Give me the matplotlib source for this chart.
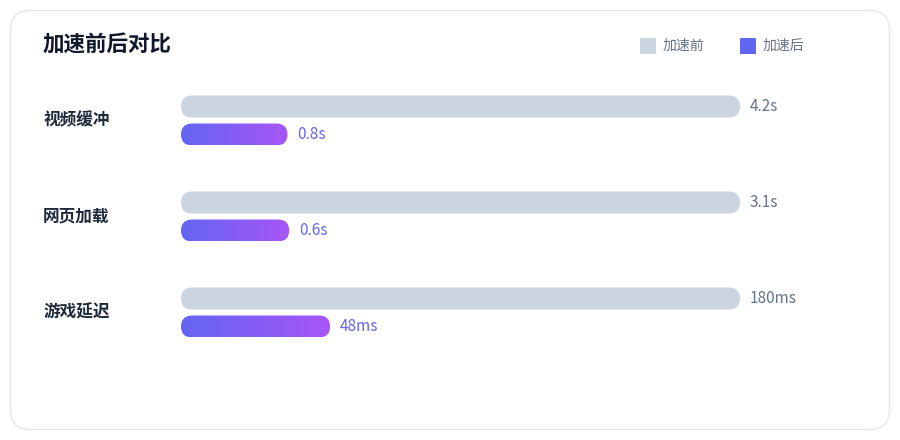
import numpy as np
import matplotlib.pyplot as plt
from matplotlib.patches import FancyBboxPatch, Rectangle
from matplotlib.colors import LinearSegmentedColormap

plt.rcParams['font.family'] = ['Noto Sans CJK SC', 'DejaVu Sans']

title = '加速前后对比'
categories = ['视频缓冲', '网页加载', '游戏延迟']
before = [4.2, 3.1, 180]
after = [0.8, 0.6, 48]
before_labels = ['4.2s', '3.1s', '180ms']
after_labels = ['0.8s', '0.6s', '48ms']
legend_labels = ['加速前', '加速后']

c_before = '#cbd5e1'
c_grad = ['#6366f1', '#a855f7']
c_text = '#1e293b'
c_muted = '#64748b'

W, H = 900, 440
fig = plt.figure(figsize=(W / 100, H / 100), dpi=100)
fig.patch.set_facecolor('white')

# background card, pixel coordinates
bg = fig.add_axes([0, 0, 1, 1])
bg.set_xlim(0, W)
bg.set_ylim(H, 0)
bg.axis('off')
bg.add_patch(FancyBboxPatch((10.5, 10.5), 879, 419, boxstyle='round,pad=0,rounding_size=20',
                            fc='white', ec='#e6e4f5', lw=1))
bg.text(43, 45, title, fontsize=15.5, fontweight='bold', color='#0f172a', va='center', ha='left')

# legend
bg.add_patch(Rectangle((640, 38), 16, 16, fc=c_before, ec='none'))
bg.text(663, 46, legend_labels[0], fontsize=10, color=c_muted, va='center')
bg.add_patch(Rectangle((740, 38), 16, 16, fc=c_grad[0], ec='none'))
bg.text(763, 46, legend_labels[1], fontsize=10, color=c_muted, va='center')

# bar area
x0, x1 = 181, 740
step = 96.0
first = 120.5
ax = fig.add_axes([x0 / W, 0, (x1 - x0) / W, 1])
ax.patch.set_alpha(0)
ax.axis('off')
ax.set_xlim(0, 1)
ax.set_ylim((H - first) / step, -first / step)

bar_h = 22 / step
off = 14 / step
rnd = 11 / (x1 - x0)
asp = (x1 - x0) / step

cmap = LinearSegmentedColormap.from_list('g', c_grad)
grad = np.linspace(0, 1, 256).reshape(1, -1)

for i, cat in enumerate(categories):
    frac = after[i] / before[i]
    yb = i - off
    ya = i + off
    pb = FancyBboxPatch((0, yb - bar_h / 2), 1, bar_h,
                        boxstyle=f'round,pad=0,rounding_size={rnd}',
                        mutation_aspect=asp, fc=c_before, ec='none')
    ax.add_patch(pb)
    pa = FancyBboxPatch((0, ya - bar_h / 2), frac, bar_h,
                        boxstyle=f'round,pad=0,rounding_size={rnd}',
                        mutation_aspect=asp, fc='none', ec='none')
    ax.add_patch(pa)
    im = ax.imshow(grad, cmap=cmap, aspect='auto',
                   extent=(0, frac, ya + bar_h / 2, ya - bar_h / 2), interpolation='bilinear')
    im.set_clip_path(pa)

    ax.annotate(before_labels[i], (1, yb), xytext=(7, 0), textcoords='offset points',
                fontsize=11, color=c_muted, va='center', ha='left')
    ax.annotate(after_labels[i], (frac, ya), xytext=(7, 0), textcoords='offset points',
                fontsize=11, color=c_grad[0], va='center', ha='left')
    ax.text((43 - x0) / (x1 - x0), i, cat, fontsize=12, fontweight='bold', color=c_text,
            va='center', ha='left')

ax.set_xlim(0, 1)
ax.set_ylim((H - first) / step, -first / step)

fig.savefig('out.png', dpi=100, facecolor='white')
